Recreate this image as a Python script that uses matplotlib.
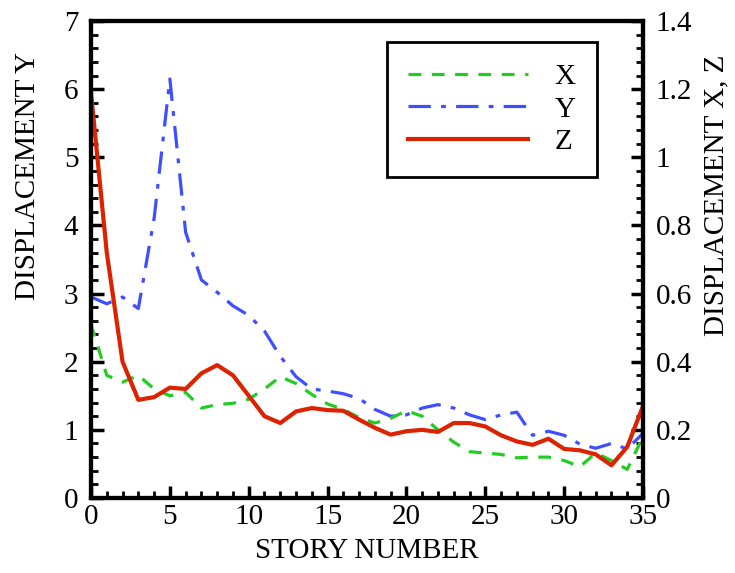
import matplotlib.pyplot as plt
from matplotlib.ticker import MultipleLocator
import numpy as np

# Donnees (etage 0..35)
story = np.arange(0, 36)
# deplacement Y (axe gauche)
disp_y = [2.95, 2.85, 2.95, 2.78, 4.1, 6.15, 3.9, 3.2, 3.02, 2.82,
          2.68, 2.45, 2.08, 1.78, 1.6, 1.57, 1.53, 1.46, 1.3, 1.2,
          1.22, 1.32, 1.37, 1.32, 1.22, 1.15, 1.22, 1.26, 0.92, 0.98,
          0.92, 0.79, 0.73, 0.8, 0.72, 0.95]
# deplacements X et Z (axe droit)
disp_x = [0.51, 0.36, 0.34, 0.36, 0.32, 0.30, 0.31, 0.264, 0.274, 0.278,
          0.29, 0.32, 0.356, 0.336, 0.304, 0.276, 0.26, 0.236, 0.22, 0.234,
          0.256, 0.24, 0.20, 0.164, 0.136, 0.132, 0.128, 0.118, 0.12, 0.12,
          0.11, 0.092, 0.132, 0.11, 0.084, 0.18]
disp_z = [1.19, 0.72, 0.40, 0.288, 0.296, 0.324, 0.32, 0.366, 0.39, 0.36,
          0.30, 0.24, 0.22, 0.254, 0.264, 0.258, 0.256, 0.23, 0.206, 0.186,
          0.196, 0.20, 0.194, 0.22, 0.22, 0.21, 0.184, 0.166, 0.156, 0.174,
          0.144, 0.14, 0.128, 0.096, 0.15, 0.27]

plt.rcParams['font.family'] = ['Liberation Serif', 'DejaVu Serif']
fs = 21

fig = plt.figure(figsize=(7.35, 5.73), dpi=100)
ax = fig.add_axes([91/735, 75/573, 552/735, 477/573])
ax2 = ax.twinx()

l_x, = ax2.plot(story, disp_x, color='#22cc22', lw=2.3, dashes=(4, 3.3), label='X')
l_y, = ax.plot(story, disp_y, color='#3f4fff', lw=2.3, dashes=(7, 3.2, 1.5, 3.2), label='Y')
l_z, = ax2.plot(story, disp_z, color='#dd2200', lw=3.0, label='Z')

ax.set_xlim(0, 35)
ax.set_ylim(0, 7)
ax2.set_ylim(0, 1.4)

ax.xaxis.set_major_locator(MultipleLocator(5))
ax.xaxis.set_minor_locator(MultipleLocator(1))
ax.yaxis.set_major_locator(MultipleLocator(1))
ax.yaxis.set_minor_locator(MultipleLocator(0.2))
ax2.yaxis.set_minor_locator(MultipleLocator(0.04))
ax2.set_yticks(np.arange(0, 1.41, 0.2))
ax2.set_yticklabels(['0', '0.2', '0.4', '0.6', '0.8', '1', '1.2', '1.4'])

for a in (ax, ax2):
    a.tick_params(which='major', direction='in', length=9, width=2.5, labelsize=fs, pad=4)
    a.tick_params(which='minor', direction='in', length=5, width=2)
    for s in a.spines.values():
        s.set_linewidth(3)
ax.tick_params(axis='y', right=False, pad=9)
ax2.tick_params(axis='y', pad=9)

ax.set_xlabel('STORY NUMBER', fontsize=fs, labelpad=6)
ax.set_ylabel('DISPLACEMENT Y', fontsize=fs)
ax.yaxis.set_label_coords(-0.09, 0.675)
ax2.set_ylabel('DISPLACEMENT X, Z', fontsize=fs)
ax2.yaxis.set_label_coords(1.11, 0.635)

leg = ax.legend(handles=[l_x, l_y, l_z], loc='upper right', bbox_to_anchor=(0.917, 0.956),
                borderaxespad=0, fontsize=fs, handlelength=4.1, labelspacing=0.2,
                handletextpad=0.9, borderpad=0.75, fancybox=False, framealpha=1,
                edgecolor='black')
leg.get_frame().set_linewidth(2)

fig.savefig('out.png', dpi=100)
